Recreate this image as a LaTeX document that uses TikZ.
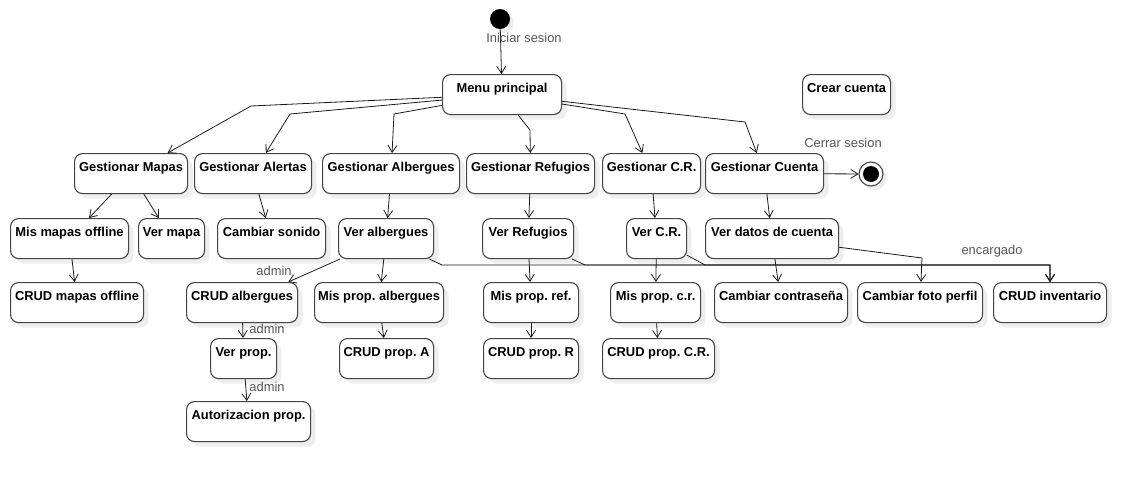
\documentclass[tikz,border=0pt]{standalone}
\usepackage{fontspec}
\setmainfont{Liberation Sans}
\usetikzlibrary{arrows.meta,shadows}
\frenchspacing

\definecolor{boxgray}{HTML}{454545}
\definecolor{labelgray}{HTML}{555555}
\definecolor{shadowgray}{HTML}{EEEEEE}
\definecolor{edgecol}{HTML}{1A1A1A}

\begin{document}
\begin{tikzpicture}[x=1pt, y=-1pt, >={Straight Barb[length=7pt,width=9pt]}]
    \useasboundingbox (0,0) rectangle (1146,482);
    \begin{scope}[all/.style={draw=boxgray, line width=1.1pt, fill=white, rounded corners=8pt, anchor=north west, minimum height=40pt, inner xsep=3pt, inner ysep=0pt, text height=17.5pt, text depth=22.5pt, font=\fontsize{12.9}{15}\selectfont\bfseries, drop shadow={shadow xshift=5pt, shadow yshift=-5pt, fill=shadowgray, opacity=1}},
        lbl/.style={text=labelgray, font=\fontsize{12.9}{15}\selectfont, inner sep=0pt},
        line width=0.8pt, draw=edgecol]
        \node[circle, fill=black, minimum size=20pt, inner sep=0pt, drop shadow={shadow xshift=4pt, shadow yshift=-4pt, fill=shadowgray, opacity=1}] (init) at (500,19) {};
        \node[circle, draw=boxgray, line width=1.1pt, fill=white, minimum size=24pt, inner sep=0pt, drop shadow={shadow xshift=4pt, shadow yshift=-4pt, fill=shadowgray, opacity=1}] (fin) at (871,174) {};
        \fill (fin.center) circle (8pt);

        \node[all, minimum width=119pt] (m0) at (442,74) {Menu principal};
        \node[all, minimum width=88pt] (c0) at (802,74) {Crear cuenta};

        \node[all, minimum width=113pt] (g1) at (74,153) {Gestionar Mapas};
        \node[all, minimum width=117pt] (g2) at (194,153) {Gestionar Alertas};
        \node[all, minimum width=137pt] (g3) at (322,153) {Gestionar Albergues};
        \node[all, minimum width=128pt] (g4) at (466,153) {Gestionar Refugios};
        \node[all, minimum width=98pt] (g5) at (602,153) {Gestionar C.R.};
        \node[all, minimum width=118pt] (g6) at (705,153) {Gestionar Cuenta};

        \node[all, minimum width=118pt] (v1) at (10,218) {Mis mapas offline};
        \node[all, minimum width=66pt] (v2) at (138,218) {Ver mapa};
        \node[all, minimum width=108pt] (v3) at (217,218) {Cambiar sonido};
        \node[all, minimum width=95pt] (v4) at (338,218) {Ver albergues};
        \node[all, minimum width=91pt] (v5) at (482,218) {Ver Refugios};
        \node[all, minimum width=60pt] (v6) at (626,218) {Ver C.R.};
        \node[all, minimum width=133pt] (v7) at (705,218) {Ver datos de cuenta};

        \node[all, minimum width=133pt] (q1) at (10,282) {CRUD mapas offline};
        \node[all, minimum width=111pt] (q2) at (186,282) {CRUD albergues};
        \node[all, minimum width=129pt] (q3) at (314,282) {Mis prop. albergues};
        \node[all, minimum width=95pt] (q4) at (483,282) {Mis prop. ref.};
        \node[all, minimum width=90pt] (q5) at (610,282) {Mis prop. c.r.};
        \node[all, minimum width=133pt] (q6) at (714,282) {Cambiar contraseña};
        \node[all, minimum width=125pt] (q7) at (857,282) {Cambiar foto perfil};
        \node[all, minimum width=113pt] (q8) at (993,282) {CRUD inventario};

        \node[all, minimum width=66pt] (t1) at (210,338) {Ver prop.};
        \node[all, minimum width=94pt] (t2) at (339,338) {CRUD prop. A};
        \node[all, minimum width=95pt] (t3) at (483,338) {CRUD prop. R};
        \node[all, minimum width=112pt] (t4) at (602,338) {CRUD prop. C.R.};

        \node[all, minimum width=124pt] (u1) at (186,401) {Autorizacion prop.};

        \begin{scope}[edgecol]
        \path[->] (init) edge (m0);
        \draw[->] (m0) -- (251,106) -- (g1);
        \draw[->] (m0) -- (290,114) -- (g2);
        \draw[->] (m0) -- (394,114) -- (g3);
        \draw[->] (m0) -- (530,130) -- (g4);
        \draw[->] (m0) -- (625,114) -- (g5);
        \draw[->] (m0) -- (745,122) -- (g6);
        \path[->] (g6) edge (fin);

        \path[->] (g1) edge (v1);
        \path[->] (g1) edge (v2);
        \path[->] (g2) edge (v3);
        \path[->] (g3) edge (v4);
        \path[->] (g4) edge (v5);
        \path[->] (g5) edge (v6);
        \path[->] (g6) edge (v7);

        \path[->] (v1) edge (q1);
        \path[->] (v4) edge (q2);
        \path[->] (v4) edge (q3);
        \path[->] (v5) edge (q4);
        \path[->] (v6) edge (q5);
        \path[->] (v7) edge (q6);
        \draw[->] (v7) -- (922,258) -- (q7);
        \draw[->] (v4) -- (442,265) -- (1050,265) -- (q8);
        \draw[->] (v5) -- (585,265) -- (1050,265) -- (q8);
        \draw[->] (v6) -- (705,265) -- (1050,265) -- (q8);

        \path[->] (q2) edge (t1);
        \path[->] (q3) edge (t2);
        \path[->] (q4) edge (t3);
        \path[->] (q5) edge (t4);
        \path[->] (t1) edge (u1);
        \end{scope}

        \node[lbl] (l0) at (524,38) {Iniciar sesion};
        \node[lbl] (l1) at (843,143) {Cerrar sesion};
        \node[lbl] (l2) at (274,271) {admin};
        \node[lbl] (l3) at (267,329) {admin};
        \node[lbl] (l4) at (267,387) {admin};
        \node[lbl] (l5) at (992,251) {encargado};
    \end{scope}
\end{tikzpicture}
\end{document}
